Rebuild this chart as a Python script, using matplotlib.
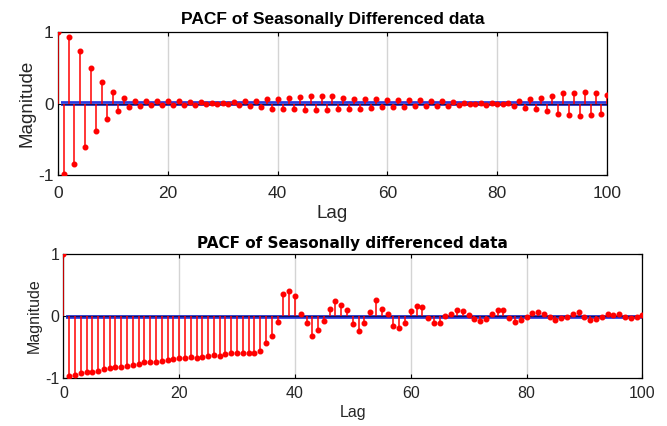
import matplotlib
matplotlib.use('Agg')
import matplotlib.pyplot as plt
from matplotlib import font_manager
import numpy as np

# font setup: Arial-like
plt.rcParams['font.family'] = ['Liberation Sans', 'DejaVu Sans']
plt.rcParams['axes.unicode_minus'] = False
names = {f.name for f in font_manager.fontManager.ttflist}
narrow = 'Liberation Sans Narrow' if 'Liberation Sans Narrow' in names else 'Liberation Sans'

# data
lags = list(range(0, 101))
pacf_top = [
    1.00, -0.99, 0.93, -0.85, 0.73, -0.61, 0.50, -0.38, 0.30, -0.21,
    0.16, -0.10, 0.08, -0.05, 0.04, -0.03, 0.03, -0.02, 0.03, -0.02,
    0.03, -0.02, 0.03, -0.02, 0.02, -0.02, 0.02, -0.01, 0.01, 0.00,
    0.01, -0.01, 0.02, -0.02, 0.03, -0.04, 0.04, -0.05, 0.06, -0.07,
    0.07, -0.07, 0.08, -0.08, 0.09, -0.09, 0.10, -0.09, 0.10, -0.09,
    0.10, -0.08, 0.08, -0.07, 0.07, -0.07, 0.07, -0.06, 0.06, -0.05,
    0.05, -0.05, 0.05, -0.05, 0.05, -0.04, 0.05, -0.04, 0.04, -0.04,
    0.03, -0.03, 0.02, -0.02, 0.01, -0.005, -0.01, 0.01, -0.02, 0.01,
    -0.01, 0.00, 0.01, -0.04, 0.03, -0.06, 0.06, -0.08, 0.08, -0.11,
    0.11, -0.14, 0.14, -0.16, 0.15, -0.17, 0.16, -0.16, 0.15, -0.14,
    0.12,
]
pacf_bottom = [
    1.00, -0.97, -0.95, -0.925, -0.91, -0.90, -0.88, -0.855, -0.84, -0.83,
    -0.82, -0.80, -0.785, -0.78, -0.75, -0.75, -0.74, -0.73, -0.71, -0.70,
    -0.67, -0.68, -0.66, -0.67, -0.66, -0.64, -0.63, -0.64, -0.62, -0.60,
    -0.59, -0.59, -0.59, -0.60, -0.56, -0.43, -0.33, -0.09, 0.35, 0.40,
    0.33, 0.03, -0.11, -0.32, -0.23, -0.08, 0.12, 0.24, 0.18, 0.10,
    -0.13, -0.24, -0.12, 0.06, 0.26, 0.12, 0.03, -0.16, -0.20, -0.11,
    0.08, 0.16, 0.15, -0.03, -0.12, -0.12, 0.00, 0.04, 0.09, 0.08,
    0.01, -0.05, -0.08, -0.05, 0.03, 0.09, 0.09, -0.04, -0.09, -0.07,
    -0.02, 0.05, 0.06, 0.03, -0.02, -0.06, -0.04, -0.02, 0.04, 0.06,
    -0.01, -0.06, -0.05, -0.01, 0.03, 0.02, 0.03, -0.02, -0.04, -0.02,
    0.02,
]
bounds_top = [-0.025, 0.025]
bounds_bottom = [-0.03, 0.0]
titles = ['PACF of Seasonally Differenced data', 'PACF of Seasonally differenced data']

txt = '#262626'
fig = plt.figure(figsize=(6.67, 4.26), dpi=100)
ax1 = fig.add_axes([0.087, 0.589, 0.823, 0.336])
ax2 = fig.add_axes([0.095, 0.1127, 0.868, 0.291])


def draw(ax, vals, bnd, title, tfs, tfam, tkfs, lfs, tpad, xpad, lpad):
    ax.set_xlim(0, 100)
    ax.set_ylim(-1, 1)
    ax.grid(True, axis='x', color='#d4d4d4', lw=1.0, zorder=0)
    ax.set_axisbelow(True)
    # confidence band
    ax.fill_between([0.5, 100], bnd[0], bnd[1], color='#3b4cf5', alpha=0.85, lw=0, zorder=2)
    ax.hlines(bnd, 0.5, 100, color='#2030e0', lw=1.2, zorder=2)
    ax.hlines(0, 0.5, 100, color='#101060', lw=1.0, zorder=3)
    ml, sl, bl = ax.stem(lags, vals, basefmt=' ')
    plt.setp(sl, color='red', lw=1.1, zorder=4)
    plt.setp(ml, color='red', marker='o', markersize=3.3, zorder=5)
    ax.set_xticks([0, 20, 40, 60, 80, 100])
    ax.set_yticks([-1, 0, 1])
    ax.tick_params(direction='in', length=3, width=0.8, top=True, right=True,
                   labelsize=tkfs, colors='black', labelcolor=txt, pad=3)
    ax.tick_params(axis='x', pad=xpad)
    for s in ax.spines.values():
        s.set_linewidth(0.9)
        s.set_color('black')
    ax.set_title(title, fontsize=tfs, fontweight='bold', family=tfam,
                 color='black', pad=tpad)
    ax.set_xlabel('Lag', fontsize=lfs, color=txt, labelpad=lpad)
    ax.set_ylabel('Magnitude', fontsize=lfs, color=txt, labelpad=2)


draw(ax1, pacf_top, bounds_top, titles[0], 12.5, [narrow, 'DejaVu Sans'], 12.5, 13.5, 5.5, 8, 3)
draw(ax2, pacf_bottom, bounds_bottom, titles[1], 11, ['DejaVu Sans'], 11.5, 11.5, 4.5, 6, 2.5)

plt.savefig('out.png', dpi=100)
